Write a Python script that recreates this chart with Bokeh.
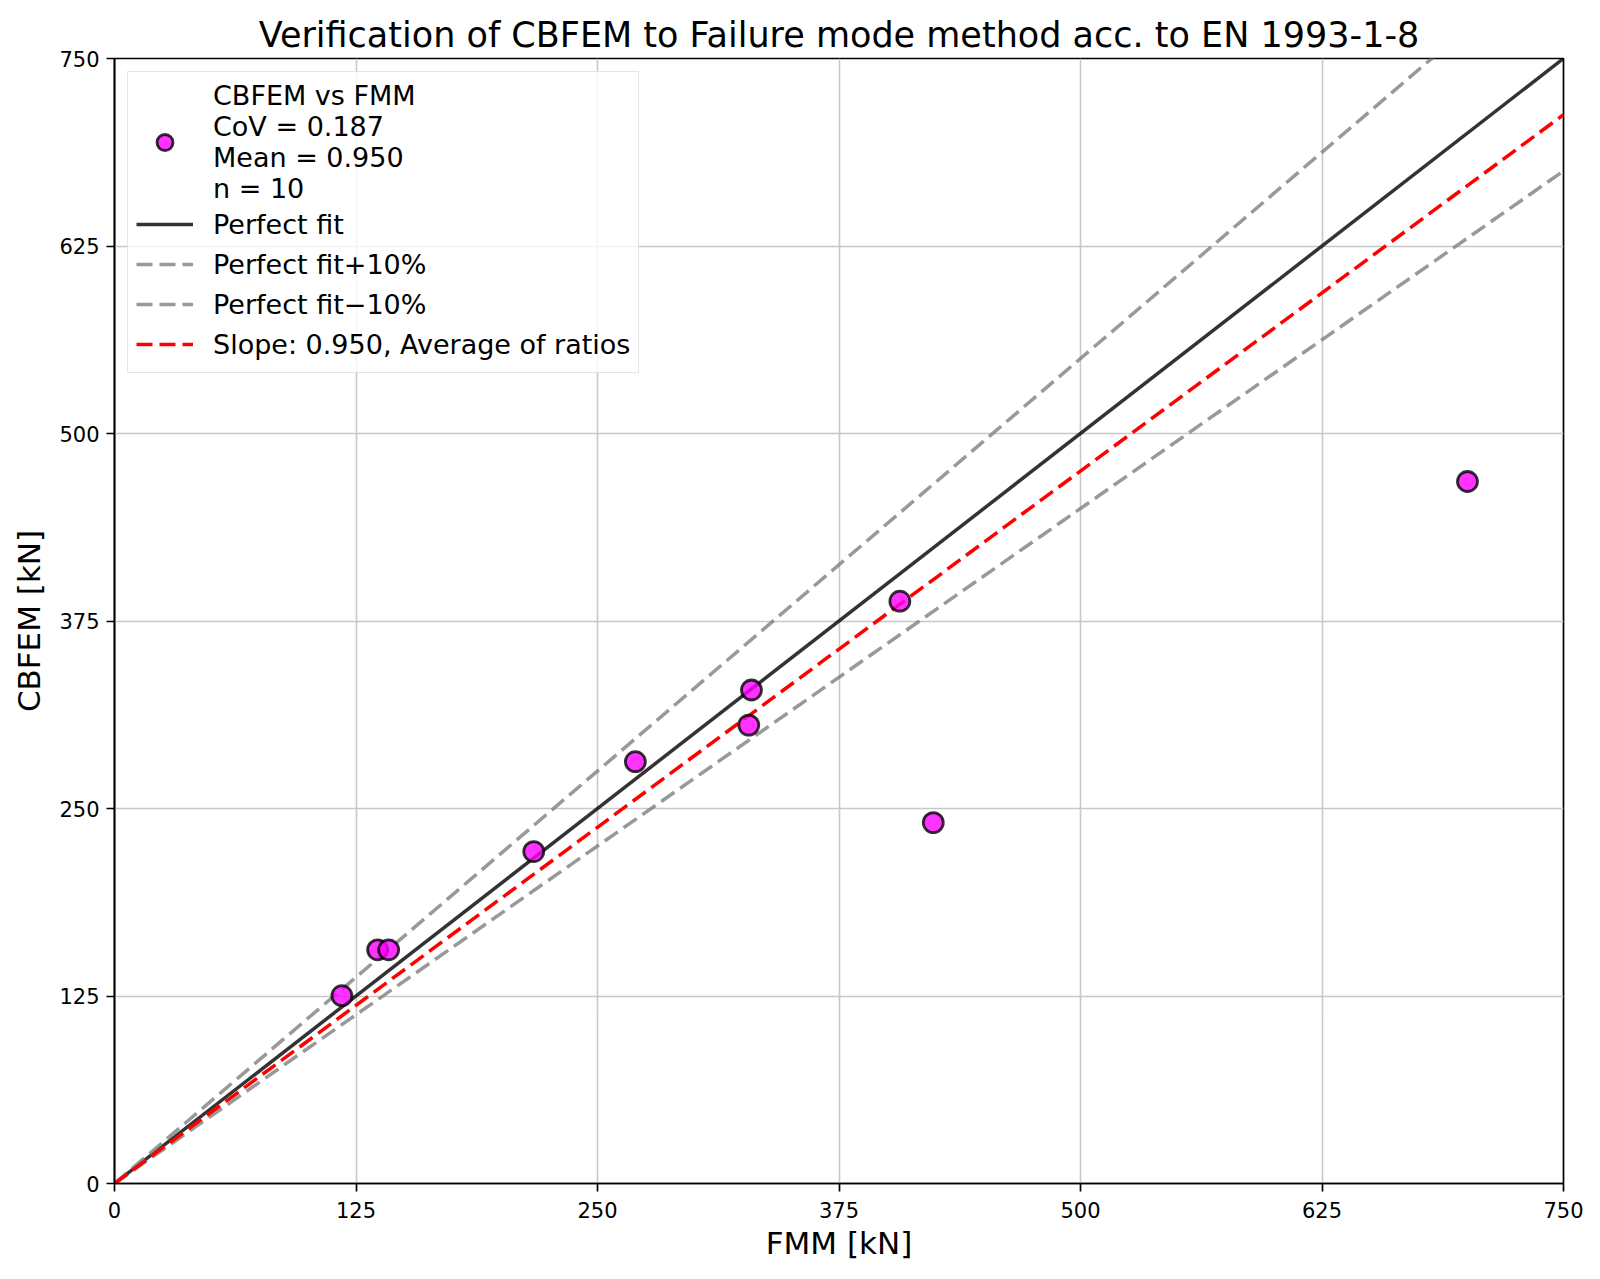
from bokeh.plotting import figure
from bokeh.models import Legend, LegendItem, Range1d, FixedTicker, Title
from bokeh.embed import file_html
from bokeh.resources import INLINE

# ---- data ----
fmm = [117.7, 136.2, 141.9, 217.0, 269.6, 328.3, 329.7, 406.5, 423.8, 700.3]
cbfem = [125.2, 155.8, 155.8, 221.3, 281.2, 305.6, 329.0, 388.2, 240.6, 468.0]
line_x = [0, 750]
slope_perfect = 1.0
slope_plus = 1.1
slope_minus = 0.9
slope_avg = 0.950
ticks = [0, 125, 250, 375, 500, 625, 750]
scatter_label = "CBFEM vs FMM\nCoV = 0.187\nMean = 0.950\nn = 10"
title_text = "Verification of CBFEM to Failure mode method acc. to EN 1993-1-8"

FONT = "DejaVu Sans"

p = figure(width=1584, height=1263, output_backend="svg", toolbar_location=None,
           x_range=Range1d(0, 750), y_range=Range1d(0, 750),
           min_border_left=114, min_border_right=21, min_border_top=58, min_border_bottom=79)

p.title = Title(text=title_text, align="center", text_font=FONT, text_font_size="35px",
                text_font_style="normal", text_color="black", standoff=8)

# grid
for g in (p.xgrid, p.ygrid):
    g.grid_line_color = "#c8c8c8"
    g.grid_line_width = 1.6
p.xgrid.ticker = FixedTicker(ticks=ticks)
p.ygrid.ticker = FixedTicker(ticks=ticks)

for ax in (p.xaxis[0], p.yaxis[0]):
    ax.ticker = FixedTicker(ticks=ticks)
    ax.axis_line_color = "black"
    ax.axis_line_width = 1.7
    ax.major_tick_line_color = "black"
    ax.major_tick_line_width = 1.7
    ax.major_tick_out = 8
    ax.major_tick_in = 0
    ax.minor_tick_line_color = None
    ax.major_label_text_font = FONT
    ax.major_label_text_font_size = "21px"
    ax.major_label_text_color = "black"
    ax.axis_label_text_font = FONT
    ax.axis_label_text_font_size = "31px"
    ax.axis_label_text_font_style = "normal"
    ax.axis_label_text_color = "black"

p.xaxis.axis_label = "FMM [kN]"
p.yaxis.axis_label = "CBFEM [kN]"
p.xaxis.major_label_standoff = 10
p.yaxis.major_label_standoff = 7
p.xaxis.axis_label_standoff = 4
p.yaxis.axis_label_standoff = 9

p.outline_line_color = "black"
p.outline_line_width = 1.7
p.outline_line_alpha = 1.0

# lines
r_perf = p.line(line_x, [x * slope_perfect for x in line_x], line_color="black", line_alpha=0.8,
                line_width=3.5)
r_plus = p.line(line_x, [x * slope_plus for x in line_x], line_color="gray", line_alpha=0.8,
                line_width=3.5, line_dash="16 7")
r_minus = p.line(line_x, [x * slope_minus for x in line_x], line_color="gray", line_alpha=0.8,
                 line_width=3.5, line_dash="16 7")
r_avg = p.line(line_x, [x * slope_avg for x in line_x], line_color="red", line_alpha=1.0,
               line_width=3.5, line_dash="16 7")

r_sc = p.scatter(fmm, cbfem, size=20, marker="circle", fill_color="magenta", fill_alpha=0.8,
                 line_color="black", line_alpha=0.8, line_width=2.8)

legend = Legend(items=[
    LegendItem(label=scatter_label, renderers=[r_sc]),
    LegendItem(label="Perfect fit", renderers=[r_perf]),
    LegendItem(label="Perfect fit+10%", renderers=[r_plus]),
    LegendItem(label="Perfect fit\u221210%", renderers=[r_minus]),
    LegendItem(label="Slope: 0.950, Average of ratios", renderers=[r_avg]),
], location="top_left")
legend.margin = 13
legend.padding = 8
legend.spacing = 0
legend.glyph_width = 57
legend.glyph_height = 40
legend.label_height = 30
legend.label_standoff = 20
legend.label_text_font = FONT
legend.label_text_font_size = "27px"
legend.label_text_color = "black"
legend.background_fill_color = "white"
legend.background_fill_alpha = 0.8
legend.border_line_color = "#cccccc"
legend.border_line_width = 1.5
p.add_layout(legend, "center")

open("out.html", "w").write(file_html(p, INLINE))
